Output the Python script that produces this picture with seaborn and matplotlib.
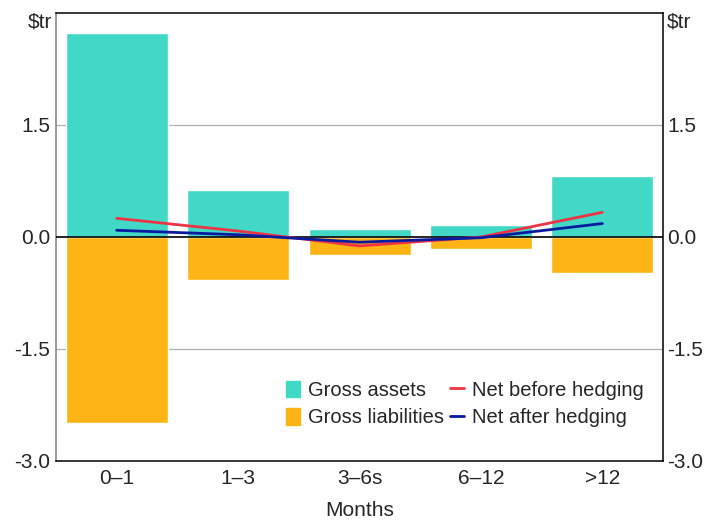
import numpy as np
import pandas as pd
import matplotlib
matplotlib.use("Agg")
import matplotlib.pyplot as plt
import seaborn as sns
from matplotlib.patches import Patch
from matplotlib.lines import Line2D

# data
categories = ["0–1", "1–3", "3–6s", "6–12", ">12"]
gross_assets = [2.73, 0.63, 0.11, 0.16, 0.82]
gross_liabilities = [-2.49, -0.58, -0.24, -0.16, -0.48]
net_before = [0.25, 0.08, -0.12, 0.00, 0.33]
net_after = [0.09, 0.03, -0.07, -0.01, 0.18]
yticks = [-3.0, -1.5, 0.0, 1.5]

c_assets = "#41d9c5"
c_liab = "#fdb515"
c_before = "#ee3344"
c_after = "#0a1aa0"

FS = 15

sns.set_style("white")
plt.rcParams["font.family"] = ["Liberation Sans", "DejaVu Sans"]

df = pd.DataFrame({"cat": categories, "assets": gross_assets, "liab": gross_liabilities,
                   "before": net_before, "after": net_after})

fig = plt.figure(figsize=(7.07, 5.20), dpi=100)
ax = fig.add_axes([0.0792, 0.1135, 0.8586, 0.8615])

sns.barplot(data=df, x="cat", y="assets", color=c_assets, saturation=1, width=0.84, ax=ax, zorder=2)
sns.barplot(data=df, x="cat", y="liab", color=c_liab, saturation=1, width=0.84, ax=ax, zorder=2)
sns.pointplot(data=df, x="cat", y="before", color=c_before, markers="", linewidth=2, ax=ax, zorder=4)
sns.pointplot(data=df, x="cat", y="after", color=c_after, markers="", linewidth=2, ax=ax, zorder=5)

ax.set_ylim(-3.0, 3.0)
ax.set_xlim(-0.5, 4.5)
ax.set_yticks(yticks)
ax.set_yticklabels([f"{v:.1f}" for v in yticks], fontsize=FS)
ax.tick_params(axis="y", length=0, pad=4)
for v in yticks:
    if v != 0 and v != -3.0:
        ax.axhline(v, color="#b0b0b0", lw=0.9, zorder=0)
ax.axhline(0, color="black", lw=1.2, zorder=3)

ax.set_xticks(range(len(categories)))
ax.set_xticklabels(categories, fontsize=FS)
ax.tick_params(axis="x", length=0, pad=6)
ax.set_xticks([0.5, 1.5, 2.5, 3.5], minor=True)
ax.tick_params(axis="x", which="minor", direction="in", length=7, width=1, color="black")
ax.set_xlabel("Months", fontsize=FS, labelpad=9)
ax.set_ylabel("")

for s in ["top", "right", "bottom"]:
    ax.spines[s].set_color("black")
    ax.spines[s].set_linewidth(1.1)
ax.spines["left"].set_color("#808080")
ax.spines["left"].set_linewidth(1.1)

ax2 = ax.twinx()
ax2.set_ylim(-3.0, 3.0)
ax2.set_yticks(yticks)
ax2.set_yticklabels([f"{v:.1f}" for v in yticks], fontsize=FS)
ax2.tick_params(axis="y", length=0, pad=3)
for s in ax2.spines.values():
    s.set_visible(False)

fig.text(0.074, 0.957, "$tr", fontsize=FS, ha="right", va="center")
fig.text(0.943, 0.957, "$tr", fontsize=FS, ha="left", va="center")

handles = [Patch(color=c_assets), Patch(color=c_liab),
           Line2D([], [], color=c_before, lw=2), Line2D([], [], color=c_after, lw=2)]
labels = ["Gross assets", "Gross liabilities", "Net before hedging", "Net after hedging"]
ax.legend(handles, labels, ncol=2, loc="lower right", bbox_to_anchor=(0.998, 0.035),
          frameon=False, fontsize=14.5, handlelength=0.7, handleheight=0.9,
          handletextpad=0.4, columnspacing=0.3, labelspacing=0.4)

fig.savefig("out.png", dpi=100)
